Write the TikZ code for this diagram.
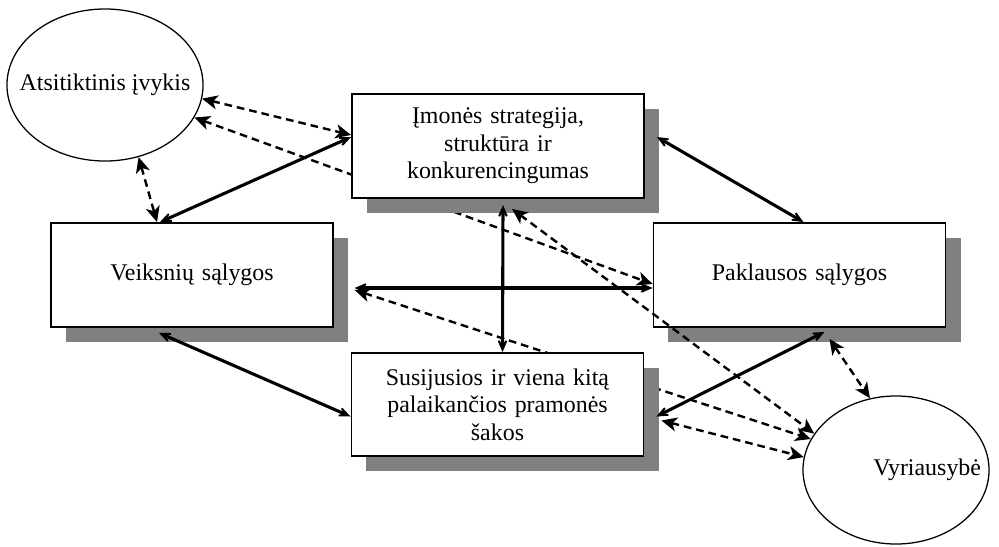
\documentclass[tikz,border=0pt]{standalone}
\usepackage{fontspec}
\setmainfont{Liberation Serif}
\usetikzlibrary{shapes.geometric, arrows.meta, shadows, backgrounds, calc}
\definecolor{shade}{RGB}{128, 128, 128}

\begin{document}
\begin{tikzpicture}[
    x=0.025cm, y=-0.025cm,
    block/.style={
        rectangle,
        minimum width=7.3cm, minimum height=2.6cm,
        text width=6.8cm, align=center,
        draw=black, line width=1.3pt, fill=white,
        font=\fontsize{17}{19.5}\selectfont,
        drop shadow={shadow xshift=0.375cm, shadow yshift=-0.375cm, fill=shade, opacity=1}
    },
    oval/.style={
        ellipse, inner sep=0pt,
        draw=black, line width=0.9pt, fill=white
    },
    ovaltext/.style={font=\fontsize{17}{19.5}\selectfont},
    link/.style={
        arrows={Stealth[length=14pt, width=12pt, inset=9pt]-Stealth[length=14pt, width=12pt, inset=9pt]},
        line width=2.2pt
    },
    dlink/.style={
        arrows={Stealth[length=11pt, width=10pt, inset=3pt]-Stealth[length=11pt, width=10pt, inset=3pt]},
        dash pattern=on 5.5pt off 3.5pt, line width=1.7pt
    }
]
\useasboundingbox (0,0) rectangle (999,546);

% Nodes
\node[oval, minimum width=4.9cm, minimum height=3.8cm,
      label={[ovaltext]center:Atsitiktinis įvykis}] (chance) at (105,85) {};
\node[block] (strat) at (498,146) {Įmonės strategija,\\ struktūra ir\\ konkurencingumas};
\node[block, minimum width=7cm] (factor) at (192,275) {Veiksnių sąlygos};
\node[block] (demand) at (799.5,275) {Paklausos sąlygos};
\node[block, minimum height=2.575cm] (related) at (497.5,404.5) {Susijusios ir viena kitą\\ palaikančios pramonės\\ šakos};
\node[oval, minimum width=4.65cm, minimum height=3.7cm,
      label={[ovaltext, xshift=0.78cm]center:Vyriausybė}] (gov) at (896,470) {};

% Dashed links behind the boxes
\begin{scope}[on background layer]
\draw[dlink] (chance.-20) -- ($(demand.west)+(0,9)$);
\draw[dlink] ($(factor.east)+(21,15)$) -- (gov.160);
\end{scope}

% Solid links
\draw[link] ($(factor.north)+(-32,0)$) -- ($(strat.west)+(0,-9)$);
\draw[link] ($(strat.east)+(12,-9)$) -- ($(demand.north)+(4,0)$);
\draw[link] ($(factor.south)+(-33,5)$) -- ($(related.west)+(0,12)$);
\draw[link] ($(related.east)+(12,12)$) -- ($(demand.south)+(25,4)$);
\draw[link] ($(factor.east)+(21,13)$) -- ($(demand.west)+(0,13)$);
\draw[link] ($(strat.south)+(5,6)$) -- ($(related.north)+(5,0)$);

% Dashed links
\draw[dlink] (chance.-8) -- ($(strat.west)+(0,-11)$);
\draw[dlink] (chance.-65) -- ($(factor.north)+(-35,0)$);
\draw[dlink] ($(strat.south)+(14,10)$) -- (gov.156);
\draw[dlink] ($(related.east)+(17,16)$) -- (gov.172);
\draw[dlink] ($(demand.south)+(30,11)$) -- (gov.110);

\end{tikzpicture}
\end{document}
